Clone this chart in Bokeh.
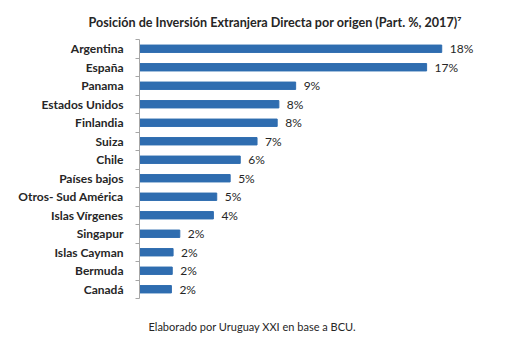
from bokeh.plotting import figure
from bokeh.models import Range1d, FixedTicker, ColumnDataSource, LabelSet, Title
from bokeh.core.properties import value
from bokeh.embed import file_html
from bokeh.resources import INLINE

countries = ["Argentina", "España", "Panama", "Estados Unidos", "Finlandia", "Suiza",
             "Chile", "Países bajos", "Otros- Sud América", "Islas Vírgenes",
             "Singapur", "Islas Cayman", "Bermuda", "Canadá"]
values = [18.0, 17.1, 9.3, 8.3, 8.2, 7.0, 6.0, 5.4, 4.6, 4.4, 2.4, 2.0, 1.95, 1.9]
value_labels = ["18%", "17%", "9%", "8%", "8%", "7%", "6%", "5%", "5%", "4%",
                "2%", "2%", "2%", "2%"]
title_text = "Posición de Inversión Extranjera Directa por origen (Part. %, 2017)\u2077"
source_note = "Elaborado por Uruguay XXI en base a BCU."

pos = list(range(len(countries)))
src = ColumnDataSource(dict(y=pos, v=values, lab=value_labels))

p = figure(width=510, height=355, output_backend="svg", toolbar_location=None,
           x_range=Range1d(0, 21.5), y_range=Range1d(13.5, -0.5),
           min_border_left=139, min_border_right=10, min_border_top=39,
           min_border_bottom=57, background_fill_color="white")
p.hbar(y="y", right="v", left=0, height=0.4, source=src, color="#2f6db0")

p.xaxis.visible = False
p.grid.visible = False
p.outline_line_color = None

ax = p.yaxis[0]
ax.ticker = FixedTicker(ticks=pos, minor_ticks=[i - 0.5 for i in range(len(countries) + 1)])
ax.major_label_overrides = {i: c for i, c in enumerate(countries)}
ax.major_tick_line_color = None
ax.major_tick_out = 0
ax.major_tick_in = 0
ax.minor_tick_out = 4
ax.minor_tick_in = 0
ax.minor_tick_line_color = "#a6a6a6"
ax.axis_line_color = "#a6a6a6"
ax.major_label_standoff = 12
ax.major_label_text_font = "Lato"
ax.major_label_text_font_style = "bold"
ax.major_label_text_font_size = "12px"
ax.major_label_text_color = "#262626"

labels = LabelSet(x="v", y="y", text="lab", source=src, x_offset=8,
                  text_baseline="middle", text_font=value("Lato"),
                  text_font_size=value("12px"), text_color=value("#262626"))
p.add_layout(labels)

p.add_layout(Title(text=title_text, align="left", offset=-51, standoff=20,
                   text_font="Lato", text_font_style="bold",
                   text_font_size="12.6px", text_color="#262626"), "above")
p.add_layout(Title(text=source_note, align="left", offset=9, standoff=38,
                   text_font="Lato", text_font_style="normal",
                   text_font_size="11px", text_color="#262626"), "below")

open("out.html", "w").write(file_html(p, INLINE))
